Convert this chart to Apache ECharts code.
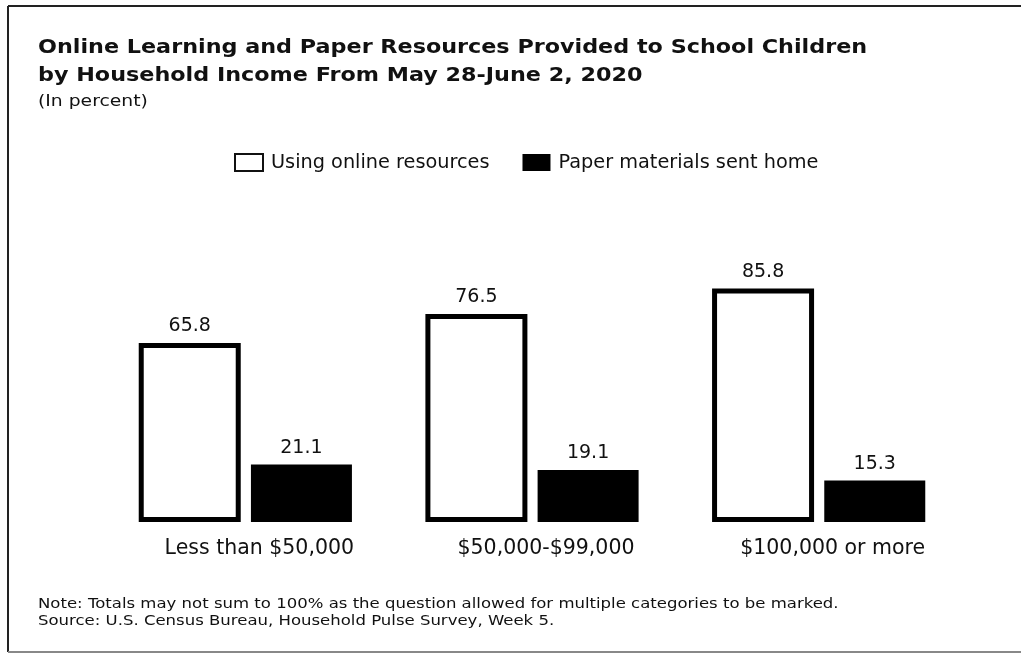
<!DOCTYPE html>
<html>
<head>
<meta charset="utf-8">
<script src="https://cdn.jsdelivr.net/npm/echarts@6/dist/echarts.min.js"></script>
<style>
html,body{margin:0;padding:0;background:#fff;}
#chart{width:1021px;height:657px;}
</style>
</head>
<body>
<div id="chart"></div>
<script>
const categories = ['Less than $50,000', '$50,000-$99,000', '$100,000 or more'];
const seriesNames = ['Using online resources', 'Paper materials sent home'];
const onlineValues = [65.8, 76.5, 85.8];
const paperValues = [21.1, 19.1, 15.3];
const titleLines = ['Online Learning and Paper Resources Provided to School Children', 'by Household Income From May 28-June 2, 2020'];
const subtitleText = '(In percent)';
const noteLines = ['Note: Totals may not sum to 100% as the question allowed for multiple categories to be marked.', 'Source: U.S. Census Bureau, Household Pulse Survey, Week 5.'];

const FONT = 'DejaVu Sans';
function txt(text, x, y, size, weight, sx) {
  return {
    type: 'text', x: x, y: y, scaleX: sx, scaleY: 1,
    style: {text: text, fontFamily: FONT, fontSize: size, fontWeight: weight, fill: '#111', align: 'left', verticalAlign: 'top'}
  };
}
const chart = echarts.init(document.getElementById('chart'), null, {renderer: 'canvas'});
chart.setOption({
  backgroundColor: '#fff',
  animation: false,
  legend: {
    top: 148, left: 229,
    icon: 'rect',
    itemWidth: 28, itemHeight: 17, itemGap: 33,
    textStyle: {fontFamily: FONT, fontSize: 19.3, color: '#111', padding: [0, 0, 0, 3]},
    data: [
      {name: seriesNames[0], itemStyle: {color: '#fff', borderColor: '#111', borderWidth: 2}},
      {name: seriesNames[1], itemStyle: {color: '#000'}}
    ]
  },
  grid: {left: 102, width: 860, top: 250, bottom: 135, containLabel: false},
  xAxis: {
    type: 'category',
    data: categories,
    axisLine: {show: false},
    axisTick: {show: false},
    axisLabel: {fontFamily: FONT, fontSize: 20.5, color: '#111', margin: 16, padding: [0, 0, 0, 28]}
  },
  yAxis: {
    type: 'value', min: 0, max: 100,
    show: false,
    splitLine: {show: false}
  },
  series: [
    {
      name: seriesNames[0], type: 'bar', data: onlineValues,
      barWidth: 102, barGap: '10%',
      itemStyle: {color: '#fff', borderColor: '#000', borderWidth: 5},
      label: {show: true, position: 'top', distance: 7, fontFamily: FONT, fontSize: 19, color: '#111'}
    },
    {
      name: seriesNames[1], type: 'bar', data: paperValues,
      barWidth: 101,
      itemStyle: {color: '#000'},
      label: {show: true, position: 'top', distance: 7, fontFamily: FONT, fontSize: 19, color: '#111'}
    }
  ],
  graphic: [
    {type: 'line', shape: {x1: 8, y1: 6, x2: 1021, y2: 6}, style: {stroke: '#222', lineWidth: 2}},
    {type: 'line', shape: {x1: 8, y1: 6, x2: 8, y2: 652}, style: {stroke: '#222', lineWidth: 2}},
    {type: 'line', shape: {x1: 8, y1: 652, x2: 1021, y2: 652}, style: {stroke: '#888', lineWidth: 2}},
    txt(titleLines[0], 38, 38, 20, 'bold', 1.114),
    txt(titleLines[1], 38, 66, 20, 'bold', 1.114),
    txt(subtitleText, 38, 95, 15, 'normal', 1.25),
    txt(noteLines[0], 38, 597, 14, 'normal', 1.18),
    txt(noteLines[1], 38, 614, 14, 'normal', 1.18)
  ]
});
</script>
</body>
</html>
